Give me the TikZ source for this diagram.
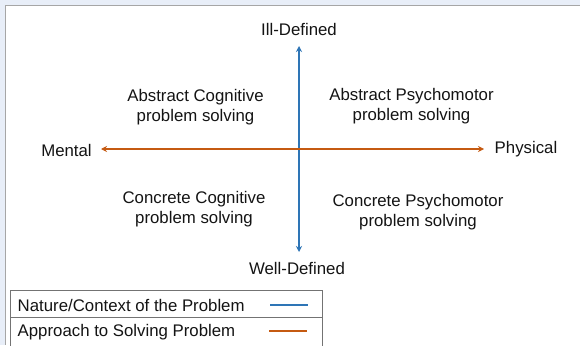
\documentclass[tikz,border=0pt]{standalone}
\usepackage{fontspec}
\setmainfont{Liberation Sans}
\usetikzlibrary{arrows.meta}
\definecolor{axisblue}{HTML}{2E75B6}
\definecolor{axisorange}{HTML}{C55A11}
\definecolor{panelbg}{HTML}{E8EEF8}
\definecolor{framegray}{HTML}{A6A6A6}
\begin{document}
\begin{tikzpicture}[x=1pt,y=-1pt,
  lbl/.style={font=\fontsize{16.8}{20}\selectfont, text=black!92, align=center, inner sep=0pt},
  axisline/.style={line width=2pt, {Stealth[length=6pt,width=6pt]}-{Stealth[length=6pt,width=6pt]}},
  keyline/.style={line width=2pt},
  frameline/.style={draw=framegray, line width=1pt}]
  % canvas and frame
  \useasboundingbox (0,0) rectangle (580,345);
  \fill[panelbg] (0,0) rectangle (580,345);
  \fill[white] (5,6) rectangle (580,345);
  \draw[frameline] (580,6) -- (5,6) -- (5,345);

  % axis end points
  \coordinate (vtop) at (299,46);
  \coordinate (vbot) at (299,252);
  \coordinate (hleft) at (101,149);
  \coordinate (hright) at (484,149);
  \draw[axisline, draw=axisblue, color=axisblue] (vtop) -- (vbot);
  \draw[axisline, draw=axisorange, color=axisorange] (hleft) -- (hright);

  % axis labels
  \node[lbl] (ill) at (299,29) {Ill-Defined};
  \node[lbl] (well) at (297,268) {Well-Defined};
  \node[lbl] (mental) at (66.5,150) {Mental};
  \node[lbl] (physical) at (526,149) {Physical};

  % quadrant labels
  \node[lbl] (ac) at (195.5,107) {Abstract Cognitive\\problem solving};
  \node[lbl] (ap) at (411.5,106) {Abstract Psychomotor\\problem solving};
  \node[lbl] (cc) at (194,209) {Concrete Cognitive\\problem solving};
  \node[lbl] (cp) at (418,212.5) {Concrete Psychomotor\\problem solving};

  % legend
  \draw[frameline, draw=black!55] (10,346) -- (10,290.5) -- (322,290.5) -- (322,346);
  \draw[frameline, draw=black!55] (10,317.5) -- (322,317.5);
  \node[lbl, anchor=west] (k1) at (17.5,305) {Nature/Context of the Problem};
  \node[lbl, anchor=west] (k2) at (17.5,332) {Approach to Solving Problem};
  \coordinate (k1a) at (270,305);
  \coordinate (k1b) at (307.5,305);
  \coordinate (k2a) at (269,330.5);
  \coordinate (k2b) at (307,330.5);
  \draw[keyline, axisblue] (k1a) -- (k1b);
  \draw[keyline, axisorange] (k2a) -- (k2b);
\end{tikzpicture}
\end{document}
